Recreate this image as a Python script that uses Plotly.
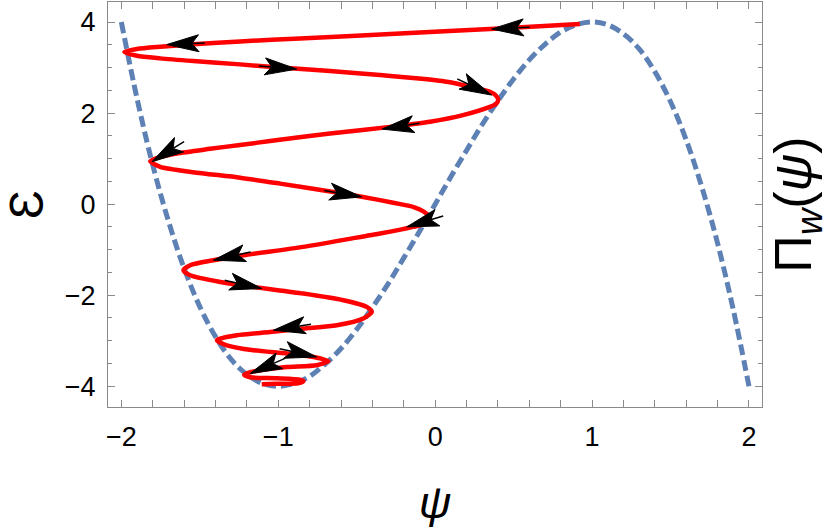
import numpy as np
import plotly.graph_objects as go

# dashed potential curve
psi_pot = [-2.0, -1.9, -1.8, -1.7, -1.6, -1.5, -1.4, -1.3, -1.2, -1.1, -1.0,
           -0.9, -0.8, -0.7, -0.6, -0.5, -0.4, -0.3, -0.2, -0.1, 0.0,
           0.1, 0.2, 0.3, 0.4, 0.5, 0.6, 0.7, 0.8, 0.9, 1.0,
           1.1, 1.2, 1.3, 1.4, 1.5, 1.6, 1.7, 1.8, 1.9, 2.0]
pot = [4.00, 2.32, 0.86, -0.37, -1.41, -2.25, -2.91, -3.41, -3.74, -3.94, -4.00,
       -3.94, -3.78, -3.51, -3.17, -2.75, -2.27, -1.75, -1.18, -0.60, 0.00,
       0.60, 1.18, 1.75, 2.27, 2.75, 3.17, 3.51, 3.78, 3.94, 4.00,
       3.94, 3.74, 3.41, 2.91, 2.25, 1.41, 0.37, -0.86, -2.32, -4.00]

# red trajectory (psi, energy)
psi_traj = [0.922, 0.413, -0.224, -0.861, -1.243, -1.542, -1.752, -1.901, -1.981,
            -1.901, -1.752, -1.542, -1.243, -0.988, -0.670, -0.351, -0.141, 0.073, 0.241, 0.349, 0.387, 0.402,
            0.387, 0.349, 0.177, -0.033, -0.243, -0.670, -1.052, -1.243, -1.434, -1.646, -1.752, -1.816,
            -1.752, -1.542, -1.243, -0.988, -0.587, -0.351, -0.205, -0.141, -0.078, -0.043, -0.033,
            -0.052, -0.141, -0.351, -0.415, -0.840, -1.222, -1.413, -1.561, -1.604,
            -1.561, -1.370, -1.158, -0.840, -0.585, -0.436, -0.404,
            -0.458, -0.627, -0.840, -1.052, -1.264, -1.370, -1.391,
            -1.328, -1.158, -0.946, -0.776, -0.681,
            -0.755, -0.946, -1.095, -1.179, -1.217,
            -1.179, -1.009, -0.861, -0.839,
            -0.874, -1.009, -1.105]
en_traj = [3.956, 3.857, 3.747, 3.637, 3.575, 3.510, 3.457, 3.407, 3.340,
           3.259, 3.202, 3.143, 3.070, 3.000, 2.923, 2.835, 2.770, 2.688, 2.565, 2.468, 2.385, 2.286,
           2.198, 2.138, 1.956, 1.809, 1.714, 1.553, 1.385, 1.301, 1.215, 1.114, 1.040, 0.945,
           0.820, 0.703, 0.582, 0.451, 0.235, 0.088, -0.011, -0.059, -0.154, -0.253, -0.330,
           -0.418, -0.499, -0.644, -0.681, -0.938, -1.121, -1.231, -1.341, -1.451,
           -1.560, -1.708, -1.818, -1.963, -2.110, -2.257, -2.367,
           -2.512, -2.659, -2.732, -2.807, -2.879, -2.952, -2.989,
           -3.099, -3.209, -3.281, -3.356, -3.444,
           -3.538, -3.576, -3.637, -3.692, -3.747,
           -3.802, -3.824, -3.857, -3.890,
           -3.934, -3.945, -3.956]

# arrowheads: tip and a point behind it on the curve
arrow_tip_psi = [0.360, -1.710, -0.882, 0.360, -0.339, -1.805, -0.468, -0.181, -1.413, -1.105, -1.031, -0.755, -1.179]
arrow_tip_en = [3.846, 3.505, 2.967, 2.396, 1.648, 0.930, 0.160, -0.499, -1.231, -1.853, -2.769, -3.356, -3.721]
arrow_back_psi = [0.551, -1.519, -1.073, 0.201, -0.135, -1.636, -0.659, -0.001, -1.222, -1.296, -0.829, -0.946, -1.009]
arrow_back_en = [3.879, 3.532, 3.022, 2.653, 1.758, 1.297, 0.270, -0.314, -1.084, -1.708, -2.659, -3.209, -3.466]

W, H = 830, 528
mar = dict(l=108, r=68, t=2, b=121)
xr = [-2.085, 2.083]
yr = [-4.455, 4.44]
kx = (W - mar['l'] - mar['r']) / (xr[1] - xr[0])
ky = (H - mar['t'] - mar['b']) / (yr[1] - yr[0])

# arrowhead geometry in pixels
L, hw, notch, tail = 32, 8.5, 7, 6
head_x, head_y, tail_x, tail_y = [], [], [], []
for tx, ty, bx, by in zip(arrow_tip_psi, arrow_tip_en, arrow_back_psi, arrow_back_en):
    ux, uy = (tx - bx) * kx, (ty - by) * ky
    n = np.hypot(ux, uy)
    ux, uy = ux / n, uy / n
    vx, vy = -uy, ux
    pts = [(0, 0),
           (-L * ux + hw * vx, -L * uy + hw * vy),
           (-(L - notch) * ux, -(L - notch) * uy),
           (-L * ux - hw * vx, -L * uy - hw * vy),
           (0, 0)]
    for px, py in pts:
        head_x.append(tx + px / kx)
        head_y.append(ty + py / ky)
    head_x.append(None)
    head_y.append(None)
    for d in (L - notch, L + tail):
        tail_x.append(tx - d * ux / kx)
        tail_y.append(ty - d * uy / ky)
    tail_x.append(None)
    tail_y.append(None)

fig = go.Figure()
fig.add_trace(go.Scatter(x=psi_pot, y=pot, mode='lines', line_shape='spline',
                         line=dict(color='#5E81B5', width=5, dash='11px,5px'),
                         hoverinfo='skip'))
fig.add_trace(go.Scatter(x=psi_traj, y=en_traj, mode='lines', line_shape='spline',
                         line=dict(color='#FF0000', width=4.5, smoothing=0.7),
                         hoverinfo='skip'))
fig.add_trace(go.Scatter(x=tail_x, y=tail_y, mode='lines',
                         line=dict(color='black', width=1.5), hoverinfo='skip'))
fig.add_trace(go.Scatter(x=head_x, y=head_y, mode='lines', fill='toself',
                         fillcolor='black', line=dict(color='black', width=1),
                         hoverinfo='skip'))
# invisible trace to hold the right-hand axis
fig.add_trace(go.Scatter(x=[0], y=[0], yaxis='y2', mode='markers',
                         marker=dict(opacity=0), hoverinfo='skip'))

frame = '#8a8a8a'
fam = 'Liberation Sans, Arial, sans-serif'
tickfont = dict(family=fam, size=27, color='black')

fig.update_layout(
    width=W, height=H, margin=mar,
    paper_bgcolor='white', plot_bgcolor='white',
    showlegend=False,
    xaxis=dict(range=xr, tickvals=[-2, -1, 0, 1, 2], ticks='inside', ticklen=7,
               tickcolor=frame, showline=True, linecolor=frame, linewidth=1,
               mirror='allticks', showgrid=False, zeroline=False, automargin=False,
               tickfont=tickfont, ticklabelstandoff=6,
               minor=dict(dtick=0.2, ticks='inside', ticklen=4, tickcolor=frame),
               title=dict(text='<i>ψ</i>', font=dict(family=fam, size=45, color='black'),
                          standoff=36)),
    yaxis=dict(range=yr, tickvals=[-4, -2, 0, 2, 4], ticks='inside', ticklen=7,
               tickcolor=frame, showline=True, linecolor=frame, linewidth=1,
               mirror='allticks', showgrid=False, zeroline=False, automargin=False,
               tickfont=tickfont, ticklabelstandoff=6,
               minor=dict(dtick=0.5, ticks='inside', ticklen=4, tickcolor=frame),
               title=dict(text='Ɛ', font=dict(family=fam, size=48, color='black'),
                          standoff=20)),
    yaxis2=dict(range=yr, overlaying='y', side='right', showticklabels=False,
                ticks='', showline=False, showgrid=False, zeroline=False, automargin=False,
                title=dict(text='Π<sub><i>w</i></sub>(<i>ψ</i>)',
                           font=dict(family=fam, size=52, color='black'), standoff=15)),
)

fig.write_html("out.html", config={'displayModeBar': False},
               post_script="document.body.style.margin='0';document.body.style.padding='0';")
